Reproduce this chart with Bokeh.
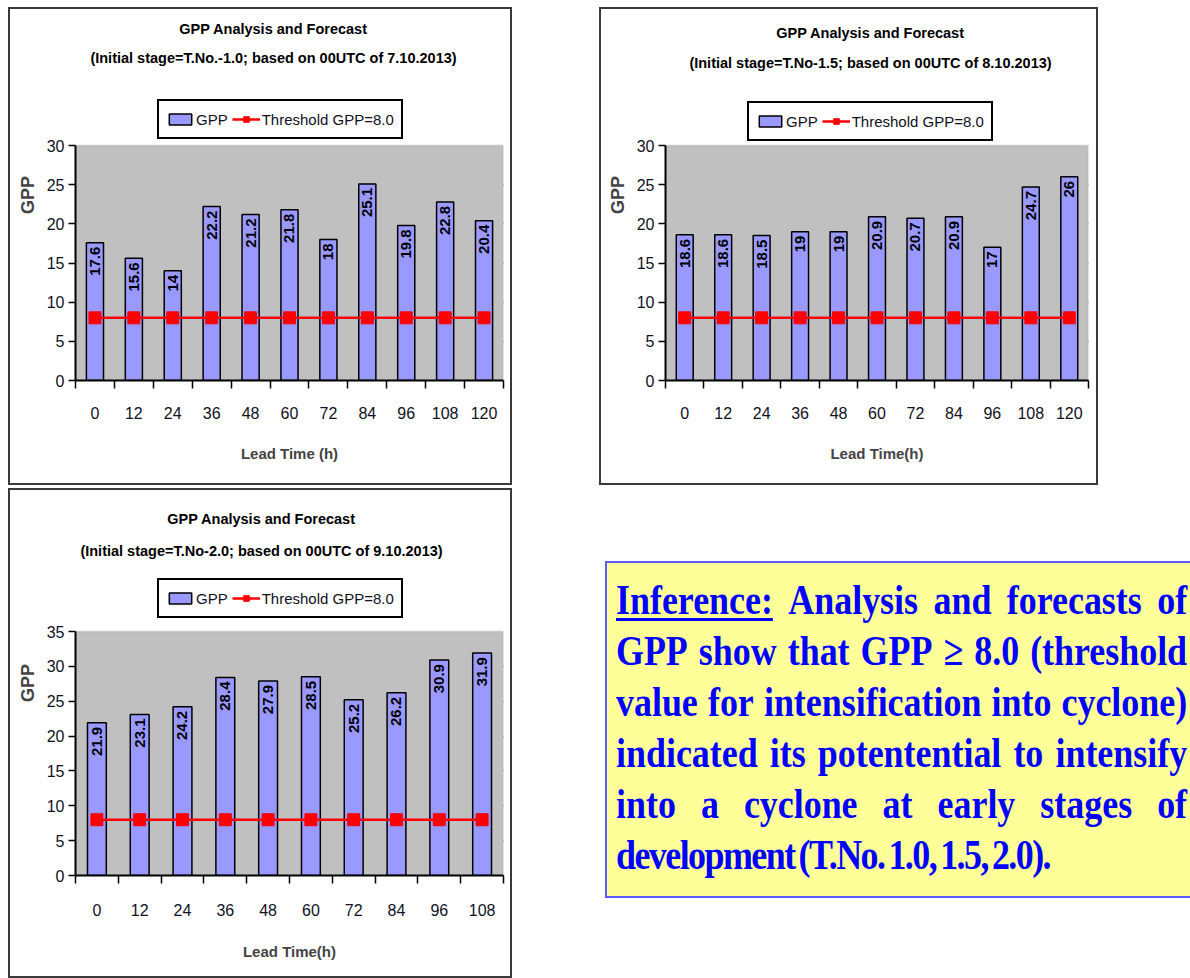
import math

from bokeh.core.properties import value
from bokeh.embed import file_html
from bokeh.layouts import column, row
from bokeh.models import (BoxAnnotation, ColumnDataSource, Div, FixedTicker,
                          LabelSet, Legend, LegendItem, Range1d)
from bokeh.plotting import figure
from bokeh.resources import INLINE

# Lead times (hours) of each forecast run
lead_7oct = [0, 12, 24, 36, 48, 60, 72, 84, 96, 108, 120]
lead_8oct = [0, 12, 24, 36, 48, 60, 72, 84, 96, 108, 120]
lead_9oct = [0, 12, 24, 36, 48, 60, 72, 84, 96, 108]

# Genesis Potential Parameter at each lead time
gpp_7oct = [17.6, 15.6, 14, 22.2, 21.2, 21.8, 18, 25.1, 19.8, 22.8, 20.4]
gpp_8oct = [18.6, 18.6, 18.5, 19, 19, 20.9, 20.7, 20.9, 17, 24.7, 26]
gpp_9oct = [21.9, 23.1, 24.2, 28.4, 27.9, 28.5, 25.2, 26.2, 30.9, 31.9]

threshold_gpp = 8.0

title_main = "GPP Analysis and Forecast"
subtitle_7oct = "(Initial stage=T.No.-1.0; based on 00UTC of 7.10.2013)"
subtitle_8oct = "(Initial stage=T.No-1.5; based on 00UTC of 8.10.2013)"
subtitle_9oct = "(Initial stage=T.No-2.0; based on 00UTC of 9.10.2013)"
xlabel_7oct = "Lead Time (h)"
xlabel_8oct = "Lead Time(h)"
xlabel_9oct = "Lead Time(h)"
ylabel = "GPP"
legend_bar = "GPP"
legend_line = "Threshold GPP=8.0"

SANS = "Liberation Sans"


def gpp_panel(lead, gpp, ymax, subtitle, xlabel, geo):
    """Bar chart of GPP with the threshold line.

    geo holds pixel geometry measured from the figure's top-left corner:
    figure size, side borders, top of the grey plotting area, heading
    centres and the legend's lower-left corner.
    """
    w, h = geo["size"]
    left, right, bottom = geo["borders"]
    top = 2
    frame_w = w - left - right
    frame_h = h - top - bottom
    plot_h = h - bottom - geo["plot_top"]
    px_y = ymax / plot_h                      # data units per pixel (y)
    step = lead[1] - lead[0]
    x0, x1 = lead[0] - step / 2, lead[-1] + step / 2
    px_x = (x1 - x0) / frame_w                # data units per pixel (x)

    def ydata(row_px):
        return (h - bottom - row_px) * px_y

    def xdata(col_px):
        return x0 + (col_px - left) * px_x

    p = figure(width=w, height=h, output_backend="svg", toolbar_location=None,
               title=None,
               x_range=Range1d(x0, x1), y_range=Range1d(0, frame_h * px_y),
               min_border_left=left, min_border_right=right,
               min_border_top=top, min_border_bottom=bottom,
               background_fill_color="white", border_fill_alpha=0.0)
    p.styles = {"outline": "2px solid #3a3a3a", "outline-offset": "-2px"}
    p.outline_line_color = None

    # grey plotting area
    p.add_layout(BoxAnnotation(bottom=0, top=ymax, fill_color="#C0C0C0",
                               fill_alpha=1.0, line_color="#a0a0a0",
                               line_width=2, level="underlay"))

    src = ColumnDataSource(dict(
        lead=lead, gpp=gpp, thr=[threshold_gpp] * len(lead),
        lbl=[f"{v:g}" for v in gpp]))

    bars = p.vbar(x="lead", top="gpp", width=step * 0.44, source=src,
                  fill_color="#9999FF", line_color="black", line_width=1.5)
    thr_line = p.line(x="lead", y="thr", source=src, line_color="#FF0000",
                      line_width=2.5)
    thr_pts = p.scatter(x="lead", y="thr", source=src, marker="square",
                        size=12, fill_color="#FF0000", line_color="#FF0000")

    p.add_layout(LabelSet(x="lead", y="gpp", text="lbl", source=src,
                          angle=math.pi / 2, text_align="right",
                          text_baseline="middle", y_offset=-4,
                          text_font=value(SANS), text_font_size="15px",
                          text_font_style="bold", text_color="black"))

    # two-line heading
    p.text(x=[xdata(geo["title_x"])] * 2,
           y=[ydata(geo["title_y"][0]), ydata(geo["title_y"][1])],
           text=[title_main, subtitle], text_font=value(SANS),
           text_font_size="14.5px", text_font_style="bold",
           text_align="center", text_baseline="middle", text_color="black")

    # grid
    p.xgrid.visible = False
    p.ygrid.ticker = FixedTicker(ticks=list(range(5, ymax, 5)))
    p.ygrid.grid_line_color = "#1a1a1a"
    p.ygrid.grid_line_width = 2

    # y axis
    yax = p.yaxis[0]
    yax.bounds = (0, ymax)
    yax.ticker = FixedTicker(ticks=list(range(0, ymax + 1, 5)))
    yax.axis_label = ylabel
    yax.axis_label_text_font = SANS
    yax.axis_label_text_font_size = "18px"
    yax.axis_label_text_font_style = "bold"
    yax.axis_label_standoff = 6
    yax.major_label_text_font = SANS
    yax.major_label_text_font_size = "16px"
    yax.major_label_text_color = "#111122"
    yax.major_label_standoff = 4
    yax.major_tick_out = 7
    yax.major_tick_in = 0
    yax.minor_tick_line_color = None
    yax.axis_line_color = "black"
    yax.axis_line_width = 2
    yax.major_tick_line_width = 1.5

    # x axis: labels at lead times, tick marks between categories
    xax = p.xaxis[0]
    xax.ticker = FixedTicker(
        ticks=lead,
        minor_ticks=[t - step / 2 for t in lead] + [lead[-1] + step / 2])
    xax.axis_label = xlabel
    xax.axis_label_text_font = SANS
    xax.axis_label_text_font_size = "15px"
    xax.axis_label_text_font_style = "bold"
    xax.axis_label_standoff = geo["xlabel_gap"]
    xax.major_label_text_font = SANS
    xax.major_label_text_font_size = "16px"
    xax.major_label_text_color = "#111122"
    xax.major_tick_line_color = None
    xax.major_tick_out = 0
    xax.major_tick_in = 0
    xax.major_label_standoff = geo["tick_gap"]
    xax.minor_tick_out = 8
    xax.minor_tick_in = 0
    xax.minor_tick_line_color = "black"
    xax.minor_tick_line_width = 1.5
    xax.axis_line_color = "black"
    xax.axis_line_width = 2

    lx, lb = geo["legend"]
    legend = Legend(
        items=[LegendItem(label=legend_bar, renderers=[bars]),
               LegendItem(label=legend_line, renderers=[thr_line, thr_pts])],
        location=(lx - left, h - bottom - lb), orientation="horizontal",
        border_line_color="black", border_line_width=2,
        border_line_alpha=1.0,
        background_fill_color="white", background_fill_alpha=1.0,
        label_text_font=SANS, label_text_font_size="15px",
        label_text_color="#111122",
        label_standoff=2, label_height=22, glyph_width=28, glyph_height=14,
        spacing=4, padding=7, margin=0)
    p.add_layout(legend)
    return p


fig_7oct = gpp_panel(lead_7oct, gpp_7oct, 30, subtitle_7oct, xlabel_7oct, dict(
    size=(504, 478), borders=(67, 9, 105), plot_top=138, title_x=265,
    title_y=(21, 50), legend=(149, 132), tick_gap=18, xlabel_gap=23))
fig_7oct.margin = (7, 0, 0, 8)

fig_8oct = gpp_panel(lead_8oct, gpp_8oct, 30, subtitle_8oct, xlabel_8oct, dict(
    size=(499, 478), borders=(66, 10, 105), plot_top=138, title_x=271,
    title_y=(25, 55), legend=(148, 134), tick_gap=18, xlabel_gap=23))
fig_8oct.margin = (7, 0, 0, 87)

fig_9oct = gpp_panel(lead_9oct, gpp_9oct, 35, subtitle_9oct, xlabel_9oct, dict(
    size=(504, 490), borders=(67, 9, 103), plot_top=143, title_x=253,
    title_y=(30, 62), legend=(149, 130), tick_gap=20, xlabel_gap=24))
fig_9oct.margin = (3, 0, 0, 8)

# inference note, justified line by line
note_lines = [
    ["<span style='text-decoration:underline;text-decoration-thickness:3px;"
     "text-underline-offset:4px'>Inference:</span>",
     "Analysis", "and", "forecasts", "of"],
    ["GPP", "show", "that", "GPP", "&ge;", "8.0", "(threshold"],
    ["value", "for", "intensification", "into", "cyclone)"],
    ["indicated", "its", "potentential", "to", "intensify"],
    ["into", "a", "cyclone", "at", "early", "stages", "of"],
]
note_last = "development (T.No. 1.0, 1.5, 2.0)."

line_html = "".join(
    "<div style='display:flex;justify-content:space-between;width:668px;"
    "height:51px;line-height:51px;white-space:nowrap'>"
    + "".join(f"<span>{w}</span>" for w in words) + "</div>"
    for words in note_lines)
line_html += ("<div style='width:668px;height:51px;line-height:51px;"
              "white-space:nowrap;word-spacing:-4px;letter-spacing:-1.8px'>"
              f"{note_last}</div>")

note_html = (
    "<div style='width:585px;height:337px;box-sizing:border-box;"
    "background:#FFFF99;border:2px solid #5c5cff;border-right:none;"
    "padding:12px 0 0 9px;overflow:hidden'>"
    "<div style=\"transform:scaleX(0.855);transform-origin:left top;"
    "font-family:'Liberation Serif',serif;font-weight:bold;font-size:42px;"
    "color:#0000FF\">" + line_html + "</div></div>")

note = Div(text=note_html, width=585, height=337, margin=(76, 0, 0, 93))

page = column(row(fig_7oct, fig_8oct), row(fig_9oct, note))

with open("out.html", "w") as fh:
    fh.write(file_html(page, INLINE, title="GPP Analysis and Forecast"))
